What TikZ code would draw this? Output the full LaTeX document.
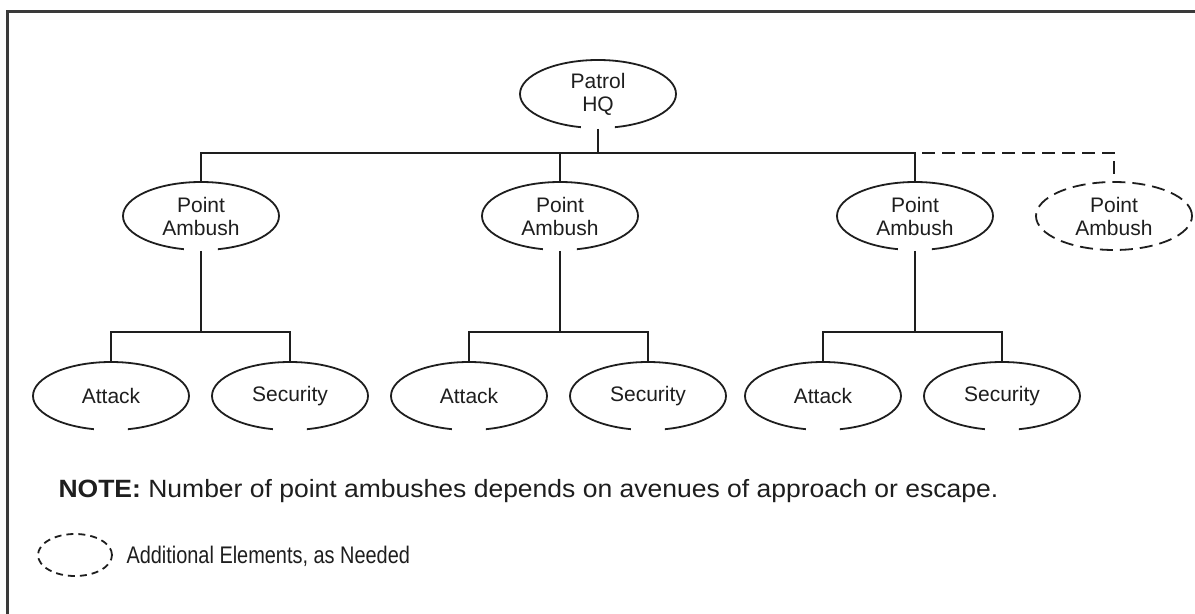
\documentclass[tikz,border=0pt]{standalone}
\usepackage{fontspec}
\setmainfont{Liberation Sans}
\newfontfamily\notefont[FakeStretch=1.06]{Liberation Sans}
\newfontfamily\keyfont[FakeStretch=0.83]{Liberation Sans}
\usetikzlibrary{shapes.geometric}
\definecolor{ink}{HTML}{1E1E1E}
\definecolor{framegray}{HTML}{3A3A3A}
\begin{document}
\begin{tikzpicture}[x=1bp,y=-1bp,
  every node/.style={text=ink, font=\fontsize{21bp}{23bp}\selectfont},
  % solid element: ellipse left open at the bottom, where its link leaves
  unit/.style={ellipse, draw=ink, line width=1.8bp, minimum width=156bp,
    minimum height=68bp, inner sep=0pt, align=center,
    dash pattern=on 257bp off 34bp on 200bp},
  % optional element
  extra/.style={ellipse, draw=ink, line width=1.8bp, minimum width=156bp,
    minimum height=68bp, inner sep=0pt, align=center,
    dash pattern=on 13bp off 7bp},
  keyshape/.style={ellipse, draw=ink, line width=1.8bp, minimum width=74bp,
    minimum height=42bp, inner sep=0pt, dash pattern=on 7bp off 5bp},
  link/.style={draw=ink, line width=1.8bp},
  optlink/.style={draw=ink, line width=1.8bp, dash pattern=on 13bp off 7bp, dash phase=13bp}
]
\useasboundingbox (0,0) rectangle (1195,614);
\fill[white] (0,0) rectangle (1195,614);

% frame (top and left edges)
\draw[framegray, line width=3bp] (1200,11.5) -- (7.5,11.5) -- (7.5,620);

% levels of the chart
\coordinate (bus) at (0,153);
\coordinate (sub) at (0,332);

% headquarters and point ambushes
\node[unit] (hq) at (598,94) {Patrol\\HQ};
\node[unit] (pa1) at (201,216) {Point\\Ambush};
\node[unit] (pa2) at (560,216) {Point\\Ambush};
\node[unit] (pa3) at (915,216) {Point\\Ambush};
\node[extra] (pa4) at (1114,216) {Point\\Ambush};

% attack and security elements
\node[unit] (att1) at (111,396) {Attack};
\node[unit] (sec1) at (290,396) {Security};
\node[unit] (att2) at (469,396) {Attack};
\node[unit] (sec2) at (648,396) {Security};
\node[unit] (att3) at (823,396) {Attack};
\node[unit] (sec3) at (1002,396) {Security};

% links from headquarters
\draw[link] (pa1.north) |- (pa3.north |- bus) -- (pa3.north);
\draw[link] (hq.south) -- (hq.south |- bus);
\draw[link] (pa2.north) -- (pa2.north |- bus);
\path[optlink] (pa3.north |- bus) -| (pa4.north);

% links within each point ambush
\foreach \p/\a/\s in {pa1/att1/sec1, pa2/att2/sec2, pa3/att3/sec3}{
  \draw[link] (\p.south) -- (\p.south |- sub);
  \draw[link] (\a.north) |- (\s.north |- sub) -- (\s.north);
}

% note and key
\node[anchor=base west, font=\notefont\fontsize{25bp}{28bp}\selectfont] (note) at (55,497)
  {\textbf{NOTE:} Number of point ambushes depends on avenues of approach or escape.};
\node[keyshape] (key) at (75,555) {};
\node[anchor=base west, font=\keyfont\fontsize{24bp}{28bp}\selectfont] (keytext) at (123,563)
  {Additional Elements, as Needed};
\end{tikzpicture}
\end{document}
